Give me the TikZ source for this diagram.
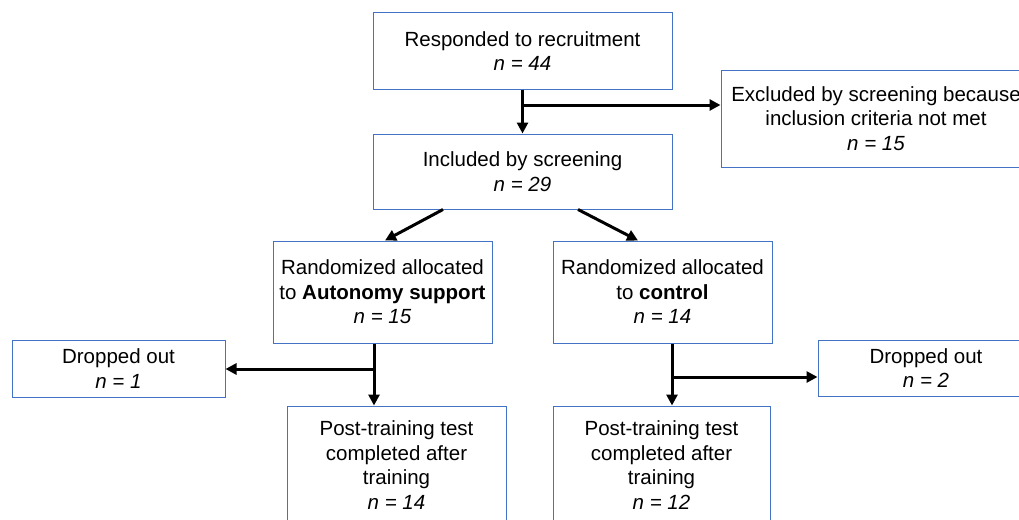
\documentclass[tikz,border=0pt]{standalone}
\usepackage{fontspec}
\setmainfont{Liberation Sans}
\usepackage{xcolor}
\usepackage{tikz}
\usetikzlibrary{positioning,arrows.meta}

\definecolor{boxblue}{RGB}{68,114,196}

\begin{document}
\begin{tikzpicture}[x=1pt, y=-1pt,
		font=\fontsize{20.5}{24.5}\selectfont,
		stage/.style={draw=boxblue, line width=1pt, inner sep=0pt, align=center},
		arr/.style={draw, line width=3pt, -{Triangle[length=11pt, width=11pt]}}]
		\useasboundingbox (0,0) rectangle (1019,519);
		\clip (0,0) rectangle (1019,519);
		\node[stage, minimum width=299pt, minimum height=76pt] (resp) at (522.5,51) {Responded to recruitment\\\textit{n = 44}};
		\node[stage, minimum width=299pt, minimum height=75pt, below=44pt of resp] (incl) {Included by screening\\\textit{n = 29}};
		\node[stage, minimum width=310pt, minimum height=97pt] (excl) at (876,118.5) {Excluded by screening because\\inclusion criteria not met\\\textit{n = 15}};
		\node[stage, minimum width=219pt, minimum height=102pt] (randA) at (382.5,292) {Randomized allocated\\to \textbf{Autonomy support}\\\textit{n = 15}};
		\node[stage, minimum width=219pt, minimum height=102pt, right=60pt of randA] (randC) {Randomized allocated\\to \textbf{control}\\\textit{n = 14}};
		\node[stage, minimum width=213pt, minimum height=57pt] (dropA) at (118.5,368.5) {Dropped out\\\textit{n = 1}};
		\node[stage, minimum width=216pt, minimum height=56pt] (dropC) at (926,368) {Dropped out\\\textit{n = 2}};
		\node[stage, minimum width=219pt, minimum height=118pt] (postA) at (396.5,465) {Post-training test\\completed after\\training\\\textit{n = 14}};
		\node[stage, minimum width=217pt, minimum height=118pt] (postC) at (661.5,465) {Post-training test\\completed after\\training\\\textit{n = 12}};
		% split points of the side branches
		\coordinate (splitTop) at (522.5,105);
		\coordinate (splitA) at (374,369);
		\coordinate (splitC) at (672,377);
		\draw[arr] (resp.south) -- (incl.north);
		\draw[arr] (splitTop) -- (splitTop -| excl.west);
		\draw[arr] ([xshift=-79.5pt]incl.south) -- ([xshift=2.5pt]randA.north);
		\draw[arr] ([xshift=55.5pt]incl.south) -- ([xshift=-24.5pt]randC.north);
		\draw[arr] (splitA |- randA.south) -- (splitA |- postA.north);
		\draw[arr] (splitA) -- (splitA -| dropA.east);
		\draw[arr] (splitC |- randC.south) -- (splitC |- postC.north);
		\draw[arr] (splitC) -- (splitC -| dropC.west);
	\end{tikzpicture}
\end{document}
